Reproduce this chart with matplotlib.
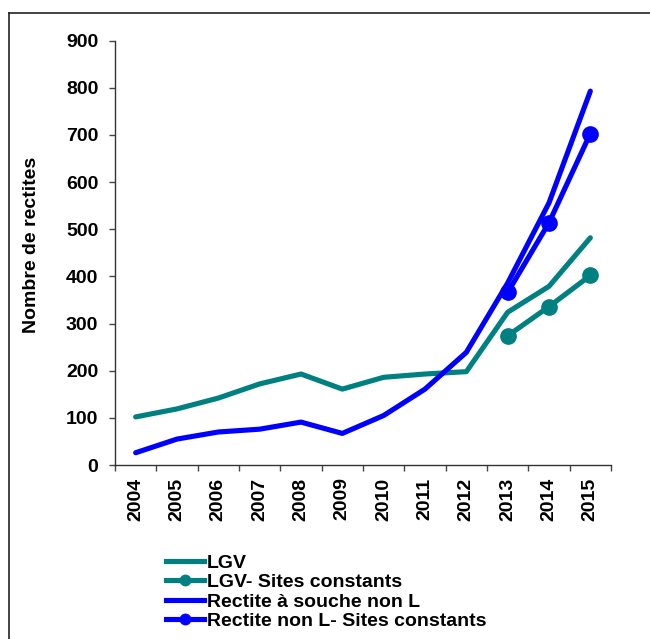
import numpy as np
import matplotlib
matplotlib.use("Agg")
import matplotlib.pyplot as plt
from matplotlib.lines import Line2D

years = ["2004", "2005", "2006", "2007", "2008", "2009", "2010", "2011",
         "2012", "2013", "2014", "2015"]
lgv = [102, 119, 142, 172, 193, 161, 186, 193, 198, 324, 379, 482]
lgv_sites = [np.nan] * 9 + [274, 336, 402]
rectite = [26, 55, 70, 76, 91, 67, 105, 161, 239, 386, 556, 793]
rectite_sites = [np.nan] * 9 + [366, 514, 703]
labels = ["LGV", "LGV- Sites constants", "Rectite à souche non L",
          "Rectite non L- Sites constants"]
yticks = [0, 100, 200, 300, 400, 500, 600, 700, 800, 900]

TEAL = "#008080"
BLUE = "#0000FF"

plt.rcParams['font.family'] = ['Liberation Sans', 'DejaVu Sans']
plt.rcParams['font.weight'] = 'bold'

fig = plt.figure(figsize=(6.5, 6.39), dpi=100)
ax = fig.add_axes([115 / 650, 1 - 465 / 639, (611 - 115) / 650, (465 - 40.7) / 639])

x = np.arange(len(years))
lw = 3.7
ax.plot(x, lgv, color=TEAL, lw=lw, solid_capstyle='round', solid_joinstyle='round')
ax.plot(x, lgv_sites, color=TEAL, lw=lw, marker='o', ms=11, solid_capstyle='round')
ax.plot(x, rectite, color=BLUE, lw=lw, solid_capstyle='round', solid_joinstyle='round')
ax.plot(x, rectite_sites, color=BLUE, lw=lw, marker='o', ms=11, solid_capstyle='round')

ax.set_xlim(-0.5, len(years) - 0.5)
ax.set_ylim(0, 900)
ax.set_yticks(yticks)
ax.set_yticklabels([str(v) for v in yticks], fontsize=14, fontweight='bold')
ax.set_xticks(x)
ax.set_xticklabels(years, rotation=90, fontsize=14, fontweight='bold')
ax.set_xticks(np.arange(len(years) + 1) - 0.5, minor=True)
ax.tick_params(axis='x', which='major', length=0, pad=9)
ax.tick_params(axis='x', which='minor', length=4, width=1, color='#444444')
ax.tick_params(axis='y', length=4, width=1, color='#444444', pad=8)

for s in ['top', 'right']:
    ax.spines[s].set_visible(False)
for s in ['left', 'bottom']:
    ax.spines[s].set_color('#333333')
    ax.spines[s].set_linewidth(1)

ax.set_ylabel("Nombre de rectites", fontsize=14, fontweight='bold')
ax.yaxis.set_label_coords(-0.151, 0.518)

handles = [
    Line2D([], [], color=TEAL, lw=lw),
    Line2D([], [], color=TEAL, lw=lw, marker='o', ms=7.5),
    Line2D([], [], color=BLUE, lw=lw),
    Line2D([], [], color=BLUE, lw=lw, marker='o', ms=7.5),
]
leg = fig.legend(handles, labels, loc='upper left',
                 bbox_to_anchor=(166 / 650, 1 - 554 / 639),
                 frameon=False, fontsize=14, handlelength=1.95,
                 handletextpad=0.15, labelspacing=0.1, borderpad=0,
                 borderaxespad=0)
for t in leg.get_texts():
    t.set_fontweight('bold')

# figure frame (left and top edges visible)
fig.add_artist(Line2D([9 / 650, 9 / 650], [0, 1 - 13 / 639], color='#222222', lw=1.2,
                      transform=fig.transFigure))
fig.add_artist(Line2D([9 / 650, 1.01], [1 - 13 / 639, 1 - 13 / 639], color='#222222', lw=1.2,
                      transform=fig.transFigure))

fig.savefig("out.png", dpi=100)
